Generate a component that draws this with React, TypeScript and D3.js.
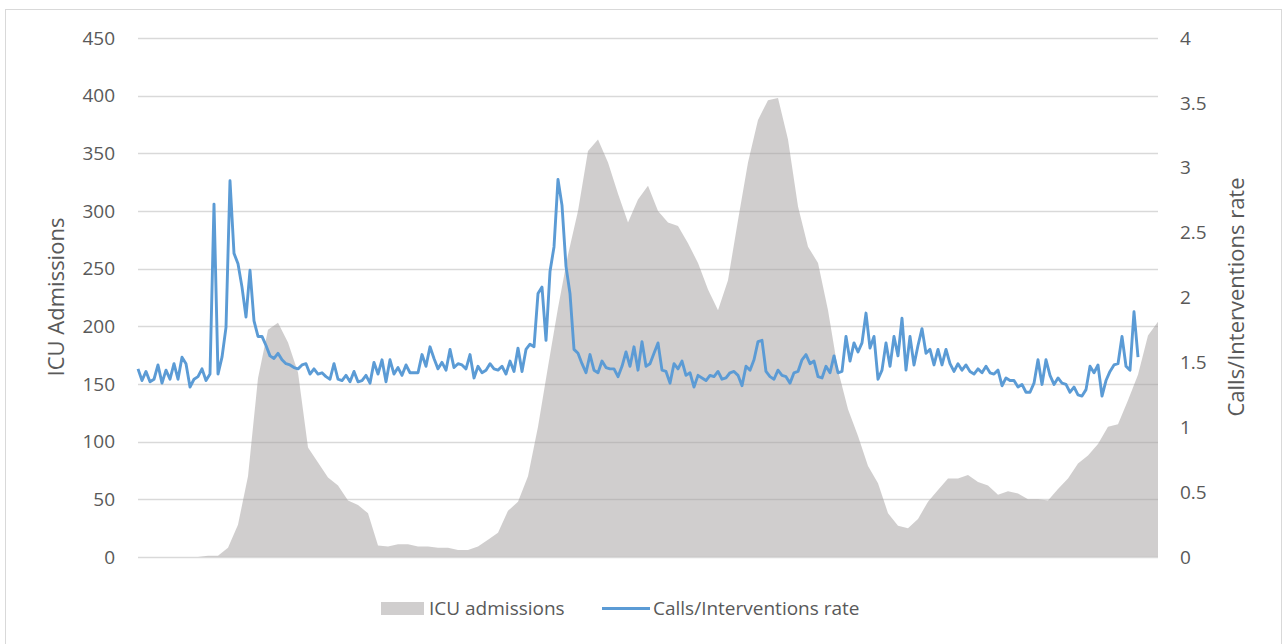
import React, { useEffect, useRef } from "react";
import * as d3 from "d3";

// ICU admissions, one value every 5 days (left axis)
const icuAdmissions = [
  0, 0, 0, 0, 0, 0, 0, 1, 1, 8,
  28, 70, 155, 197, 203, 186, 160, 95, 82, 69,
  62, 49, 45, 38, 10, 9, 11, 11, 9, 9,
  8, 8, 6, 6, 9, 15, 21, 40, 48, 70,
  113, 165, 216, 262, 300, 352, 362, 342, 315, 290,
  310, 322, 300, 290, 287, 272, 255, 232, 214, 240,
  292, 342, 379, 396, 398, 362, 304, 269, 255, 214,
  162, 128, 105, 79, 64, 38, 27, 25, 33, 48,
  58, 68, 68, 71, 65, 62, 54, 57, 55, 50,
  50, 49, 59, 68, 81, 88, 98, 113, 115, 136,
  158, 192, 204,
];

// calls / interventions rate, one value every 2 days (right axis)
const callsRate = [
  1.45, 1.36, 1.43, 1.35, 1.37, 1.48, 1.34, 1.44, 1.37, 1.49,
  1.37, 1.54, 1.49, 1.31, 1.37, 1.39, 1.45, 1.36, 1.41, 2.72,
  1.41, 1.54, 1.77, 2.9, 2.34, 2.26, 2.08, 1.85, 2.21, 1.82,
  1.7, 1.7, 1.63, 1.55, 1.53, 1.57, 1.52, 1.49, 1.48, 1.46,
  1.45, 1.48, 1.49, 1.41, 1.45, 1.41, 1.42, 1.39, 1.37, 1.49,
  1.37, 1.36, 1.4, 1.35, 1.43, 1.35, 1.36, 1.4, 1.34, 1.5,
  1.41, 1.52, 1.35, 1.52, 1.41,
  1.46, 1.4, 1.48, 1.42, 1.42, 1.42, 1.56, 1.47, 1.62, 1.53,
  1.45, 1.5, 1.44, 1.6, 1.46, 1.49, 1.48, 1.45, 1.56, 1.38,
  1.47, 1.42, 1.44, 1.49, 1.45, 1.44, 1.47, 1.41, 1.51, 1.43,
  1.61, 1.43, 1.6, 1.64, 1.62, 2.03, 2.08, 1.67, 2.2, 2.39,
  2.91, 2.71, 2.24, 2.03, 1.6, 1.57, 1.49, 1.42, 1.56, 1.44,
  1.42, 1.51, 1.46, 1.45, 1.45, 1.39, 1.47, 1.58, 1.47, 1.62,
  1.44, 1.66, 1.47, 1.49,
  1.57, 1.65, 1.44, 1.43, 1.34, 1.49, 1.45, 1.51, 1.4, 1.42,
  1.31, 1.4, 1.38, 1.36, 1.4, 1.39, 1.43, 1.37, 1.38, 1.42,
  1.43, 1.4, 1.32, 1.47, 1.44, 1.52, 1.66, 1.67, 1.43, 1.39,
  1.37, 1.44, 1.4, 1.39, 1.34, 1.42, 1.43, 1.52, 1.56, 1.49,
  1.51, 1.39, 1.38, 1.47, 1.42, 1.55, 1.42, 1.43, 1.7, 1.51,
  1.65, 1.58, 1.65, 1.88, 1.61, 1.7, 1.37, 1.44, 1.65, 1.47,
  1.7, 1.55, 1.84,
  1.44, 1.7, 1.48, 1.63, 1.76, 1.57, 1.6, 1.48, 1.6, 1.48,
  1.6, 1.49, 1.43, 1.49, 1.44, 1.48, 1.43, 1.41, 1.45, 1.42,
  1.47, 1.42, 1.41, 1.44, 1.32, 1.38, 1.36, 1.36, 1.31, 1.33,
  1.27, 1.27, 1.34, 1.52, 1.33, 1.52, 1.4, 1.33, 1.38, 1.34,
  1.33, 1.27, 1.31, 1.25, 1.24, 1.29, 1.47, 1.42, 1.48, 1.24,
  1.36, 1.43, 1.48, 1.49, 1.7, 1.47, 1.44, 1.89, 1.54,
];

const leftTicks = [0, 50, 100, 150, 200, 250, 300, 350, 400, 450];
const rightTicks = [0, 0.5, 1, 1.5, 2, 2.5, 3, 3.5, 4];
const totalDays = 510;
const icuStep = 5;
const callsStep = 2;

const FONT = "'Open Sans', 'DejaVu Sans', sans-serif";
const TEXT = "#595959";
const GRID = "#d9d9d9";
const BLUE = "#5b9bd5";

export default function App() {
  const ref = useRef(null);

  useEffect(() => {
    const svg = d3.select(ref.current);
    svg.selectAll("*").remove();

    const x = d3.scaleLinear().domain([0, totalDays]).range([138, 1158]);
    const yLeft = d3.scaleLinear().domain([0, 450]).range([557, 38]);
    const yRight = d3.scaleLinear().domain([0, 4]).range([557, 38]);

    // chart frame
    svg
      .append("rect")
      .attr("x", 5.5)
      .attr("y", 9.5)
      .attr("width", 1276)
      .attr("height", 660)
      .attr("fill", "#fff")
      .attr("stroke", GRID);

    // gridlines
    svg
      .append("g")
      .selectAll("line")
      .data(leftTicks)
      .enter()
      .append("line")
      .attr("x1", 138)
      .attr("x2", 1158)
      .attr("y1", (d) => Math.round(yLeft(d)) + 0.5)
      .attr("y2", (d) => Math.round(yLeft(d)) + 0.5)
      .attr("stroke", GRID)
      .attr("stroke-width", 1.3);

    // ICU admissions area (semi transparent so gridlines show through)
    const area = d3
      .area()
      .x((d, i) => x(i * icuStep))
      .y0(yLeft(0))
      .y1((d) => yLeft(d));
    svg
      .append("path")
      .datum(icuAdmissions)
      .attr("d", area)
      .attr("fill", "#a19e9e")
      .attr("fill-opacity", 0.5);

    // calls rate line
    const line = d3
      .line()
      .x((d, i) => x(i * callsStep))
      .y((d) => yRight(d));
    svg
      .append("path")
      .datum(callsRate)
      .attr("d", line)
      .attr("fill", "none")
      .attr("stroke", BLUE)
      .attr("stroke-width", 2.9)
      .attr("stroke-linejoin", "round");

    // left tick labels
    svg
      .append("g")
      .selectAll("text")
      .data(leftTicks)
      .enter()
      .append("text")
      .attr("x", 115)
      .attr("y", (d) => yLeft(d))
      .attr("dy", "0.35em")
      .attr("text-anchor", "end")
      .attr("font-family", FONT)
      .attr("font-size", 19)
      .attr("fill", TEXT)
      .text((d) => d);

    // right tick labels
    svg
      .append("g")
      .selectAll("text")
      .data(rightTicks)
      .enter()
      .append("text")
      .attr("x", 1180)
      .attr("y", (d) => yRight(d))
      .attr("dy", "0.35em")
      .attr("text-anchor", "start")
      .attr("font-family", FONT)
      .attr("font-size", 19)
      .attr("fill", TEXT)
      .text((d) => d);

    // axis titles
    svg
      .append("text")
      .attr("transform", "translate(64,297) rotate(-90)")
      .attr("text-anchor", "middle")
      .attr("font-family", FONT)
      .attr("font-size", 22)
      .attr("fill", TEXT)
      .text("ICU Admissions");
    svg
      .append("text")
      .attr("transform", "translate(1244,297) rotate(-90)")
      .attr("text-anchor", "middle")
      .attr("font-family", FONT)
      .attr("font-size", 22)
      .attr("fill", TEXT)
      .text("Calls/Interventions rate");

    // legend
    const legend = svg.append("g");
    legend
      .append("rect")
      .attr("x", 381)
      .attr("y", 602)
      .attr("width", 43)
      .attr("height", 13)
      .attr("fill", "#a19e9e")
      .attr("fill-opacity", 0.5);
    legend
      .append("text")
      .attr("x", 429)
      .attr("y", 615)
      .attr("font-family", FONT)
      .attr("font-size", 19)
      .attr("fill", TEXT)
      .text("ICU admissions");
    legend
      .append("line")
      .attr("x1", 602)
      .attr("x2", 650)
      .attr("y1", 608.5)
      .attr("y2", 608.5)
      .attr("stroke", BLUE)
      .attr("stroke-width", 2.9);
    legend
      .append("text")
      .attr("x", 653)
      .attr("y", 615)
      .attr("font-family", FONT)
      .attr("font-size", 19)
      .attr("fill", TEXT)
      .text("Calls/Interventions rate");
  }, []);

  return (
    <div style={{ position: "absolute", left: 0, top: 0 }}>
      <svg ref={ref} width="1283" height="644"></svg>
    </div>
  );
}
